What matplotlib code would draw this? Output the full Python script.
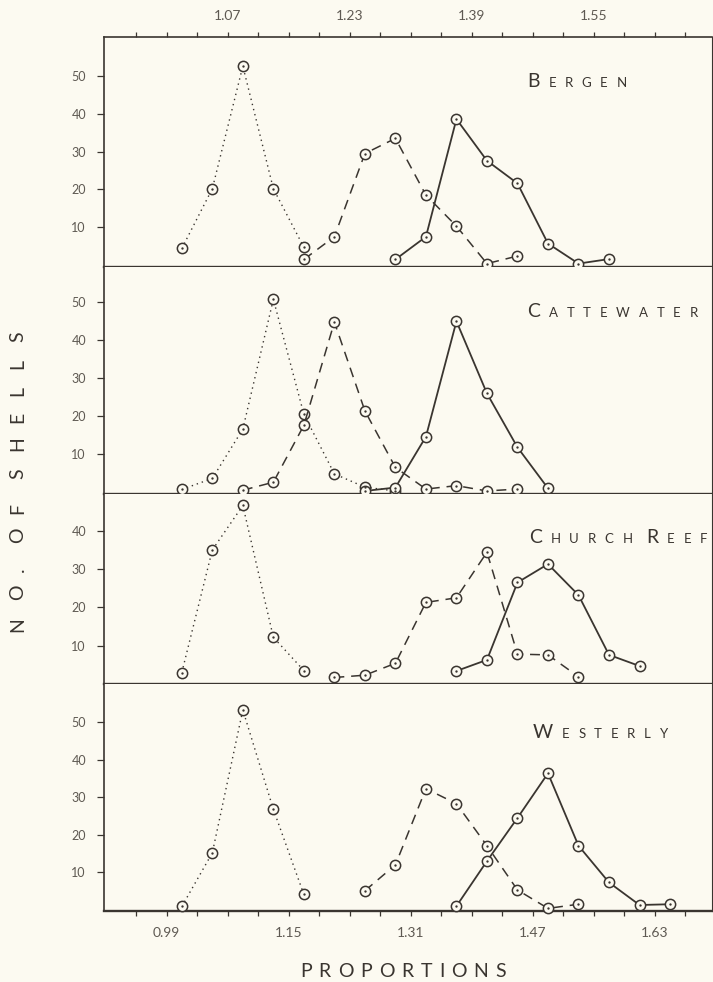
import matplotlib
matplotlib.use('Agg')
import matplotlib.pyplot as plt

BG = '#fcfaf1'
INK = '#3a3530'
GRAY = '#5e5952'
FONT = ['Lato', 'DejaVu Sans']
plt.rcParams['font.family'] = FONT

# ---------------- data (class mid-points of proportion, number of shells) ----
site_names = [['Bergen'], ['Cattewater'], ['Church', 'Reef'], ['Westerly']]

bergen_dot_x = [1.01, 1.05, 1.09, 1.13, 1.17]
bergen_dot_y = [4.4, 20.2, 52.6, 20.2, 4.7]
bergen_dash_x = [1.17, 1.21, 1.25, 1.29, 1.33, 1.37, 1.41, 1.45]
bergen_dash_y = [1.5, 7.5, 29.5, 33.5, 18.5, 10.3, 0.4, 2.4]
bergen_solid_x = [1.29, 1.33, 1.37, 1.41, 1.45, 1.49, 1.53, 1.57]
bergen_solid_y = [1.5, 7.5, 38.6, 27.6, 21.6, 5.7, 0.4, 1.6]

catte_dot_x = [1.01, 1.05, 1.09, 1.13, 1.17, 1.21, 1.25, 1.29]
catte_dot_y = [0.7, 3.6, 16.6, 50.8, 20.5, 4.8, 1.3, 0.3]
catte_dash_x = [1.09, 1.13, 1.17, 1.21, 1.25, 1.29, 1.33, 1.37, 1.41, 1.45]
catte_dash_y = [0.5, 2.6, 17.6, 44.8, 21.4, 6.5, 0.8, 1.7, 0.3, 0.8]
catte_solid_x = [1.25, 1.29, 1.33, 1.37, 1.41, 1.45, 1.49]
catte_solid_y = [0.3, 1.2, 14.6, 45.0, 26.0, 11.8, 1.0]

church_dot_x = [1.01, 1.05, 1.09, 1.13, 1.17]
church_dot_y = [3.0, 35.0, 46.6, 12.2, 3.5]
church_dash_x = [1.21, 1.25, 1.29, 1.33, 1.37, 1.41, 1.45, 1.49, 1.53]
church_dash_y = [1.7, 2.3, 5.4, 21.3, 22.5, 34.4, 7.8, 7.6, 1.9]
church_solid_x = [1.37, 1.41, 1.45, 1.49, 1.53, 1.57, 1.61]
church_solid_y = [3.4, 6.3, 26.5, 31.3, 23.2, 7.6, 4.7]

wester_dot_x = [1.01, 1.05, 1.09, 1.13, 1.17]
wester_dot_y = [0.9, 15.2, 53.3, 26.8, 4.1]
wester_dash_x = [1.25, 1.29, 1.33, 1.37, 1.41, 1.45, 1.49, 1.53]
wester_dash_y = [5.1, 12.0, 32.3, 28.3, 17.1, 5.3, 0.4, 1.5]
wester_solid_x = [1.37, 1.41, 1.45, 1.49, 1.53, 1.57, 1.61, 1.65]
wester_solid_y = [1.0, 13.0, 24.5, 36.4, 17.1, 7.3, 1.3, 1.5]

panels = [
    (bergen_dot_x, bergen_dot_y, bergen_dash_x, bergen_dash_y, bergen_solid_x, bergen_solid_y),
    (catte_dot_x, catte_dot_y, catte_dash_x, catte_dash_y, catte_solid_x, catte_solid_y),
    (church_dot_x, church_dot_y, church_dash_x, church_dash_y, church_solid_x, church_solid_y),
    (wester_dot_x, wester_dot_y, wester_dash_x, wester_dash_y, wester_solid_x, wester_solid_y),
]
y_ticks = [[10, 20, 30, 40, 50], [10, 20, 30, 40, 50], [10, 20, 30, 40], [10, 20, 30, 40, 50]]
top_tick_labels = [1.07, 1.23, 1.39, 1.55]
bottom_tick_labels = [0.99, 1.15, 1.31, 1.47, 1.63]
class_bounds = [0.95, 0.99, 1.03, 1.07, 1.11, 1.15, 1.19, 1.23, 1.27, 1.31, 1.35,
                1.39, 1.43, 1.47, 1.51, 1.55, 1.59, 1.63, 1.67]

# ---------------- layout ----------------
W, H = 713, 982
fig = plt.figure(figsize=(W / 100, H / 100), dpi=100, facecolor=BG)
gs = fig.add_gridspec(4, 1, height_ratios=[230, 227, 190, 227], hspace=0,
                      left=104 / W, right=712 / W, top=1 - 37 / H, bottom=1 - 911 / H)
ylims = [(-0.5, 60.3), (-0.5, 59.3), (0, 49.6), (-0.3, 60.2)]
label_pos = [(1.4625, 47.0), (1.4625, 46.0), (1.4650, 36.8), (1.4700, 45.9)]


def draw(ax, x, y, ls, lw):
    ax.plot(x, y, color=INK, lw=lw, linestyle=ls, marker='o', ms=7.4,
            mfc=BG, mec=INK, mew=1.1, zorder=3, clip_on=False)
    ax.plot(x, y, linestyle='none', marker='o', ms=1.7, mfc=INK, mec=INK,
            mew=0, zorder=4, clip_on=False)


def small_caps(ax, x, y, words, big=14, small=9.5, track=6.3, word_gap=10):
    prev = None
    for w in words:
        for ci, ch in enumerate(w.upper()):
            size = big if ci == 0 else small
            if prev is None:
                t = ax.text(x, y, ch, fontsize=size, ha='left', va='baseline',
                            color=INK, family=FONT)
            else:
                gap = track if ci > 0 else word_gap
                t = ax.annotate(ch, xy=(1, y), xycoords=(prev, 'data'),
                                xytext=(gap, 0), textcoords='offset points',
                                fontsize=size, ha='left', va='baseline',
                                color=INK, family=FONT)
            prev = t


axes = []
for i, (dx, dy, ex, ey, sx, sy) in enumerate(panels):
    ax = fig.add_subplot(gs[i])
    axes.append(ax)
    ax.set_facecolor(BG)
    ax.set_xlim(0.908, 1.705)
    ax.set_ylim(*ylims[i])
    draw(ax, dx, dy, (0, (1, 2.8)), 1.0)
    draw(ax, ex, ey, (0, (6.5, 4.5)), 1.1)
    draw(ax, sx, sy, '-', 1.3)

    ax.set_yticks(y_ticks[i])
    ax.tick_params(axis='y', direction='out', length=5, width=0.9, color=INK,
                   pad=8, labelsize=9, labelcolor=GRAY)
    for s in ['left', 'right', 'top', 'bottom']:
        ax.spines[s].set_color(INK)
    ax.spines['left'].set_linewidth(1.2)
    ax.spines['bottom'].set_linewidth(1.7)
    ax.spines['right'].set_linewidth(0.8)
    ax.spines['top'].set_visible(i == 0)
    ax.spines['top'].set_linewidth(1.2)

    if i == 0:
        ax.xaxis.tick_top()
        ax.set_xticks(top_tick_labels)
        ax.set_xticklabels(['%.2f' % v for v in top_tick_labels])
        ax.set_xticks(class_bounds, minor=True)
        ax.tick_params(axis='x', which='both', direction='out', length=3.5,
                       width=0.9, color=INK, top=True, bottom=False)
        ax.tick_params(axis='x', which='major', pad=7, labelsize=10,
                       labelcolor=GRAY, labeltop=True, labelbottom=False)
    elif i == 3:
        ax.set_xticks(bottom_tick_labels)
        ax.set_xticklabels(['%.2f' % v for v in bottom_tick_labels])
        ax.set_xticks(class_bounds, minor=True)
        ax.tick_params(axis='x', which='both', direction='out', length=3.5,
                       width=0.9, color=INK)
        ax.tick_params(axis='x', which='major', pad=8, labelsize=10,
                       labelcolor=GRAY)
    else:
        ax.tick_params(axis='x', which='both', bottom=False, top=False,
                       labelbottom=False)

    lx, ly = label_pos[i]
    small_caps(ax, lx, ly, site_names[i])

# y label: spaced capitals reading bottom to top
ylab_chars = ['N', 'O', '.', 'O', 'F', 'S', 'H', 'E', 'L', 'L', 'S']
ylab_centres = [625, 592, 570, 535, 508, 474, 444, 417, 391, 364, 337]
for ch, yc in zip(ylab_chars, ylab_centres):
    fig.text(18 / W, 1 - yc / H, ch, rotation=90, ha='center', va='center',
             fontsize=14, color=INK, family=FONT)

# x label: spaced capitals
prev = fig.text(300 / W, 1 - 977 / H, 'P', fontsize=14, color=INK,
                ha='left', va='baseline', family=FONT)
for ch in 'ROPORTIONS':
    prev = axes[0].annotate(ch, xy=(1, 1 - 977 / H),
                            xycoords=(prev, 'figure fraction'),
                            xytext=(5, 0), textcoords='offset points',
                            fontsize=14, color=INK, ha='left',
                            va='baseline', family=FONT,
                            annotation_clip=False)

fig.savefig('out.png', dpi=100, facecolor=BG)
